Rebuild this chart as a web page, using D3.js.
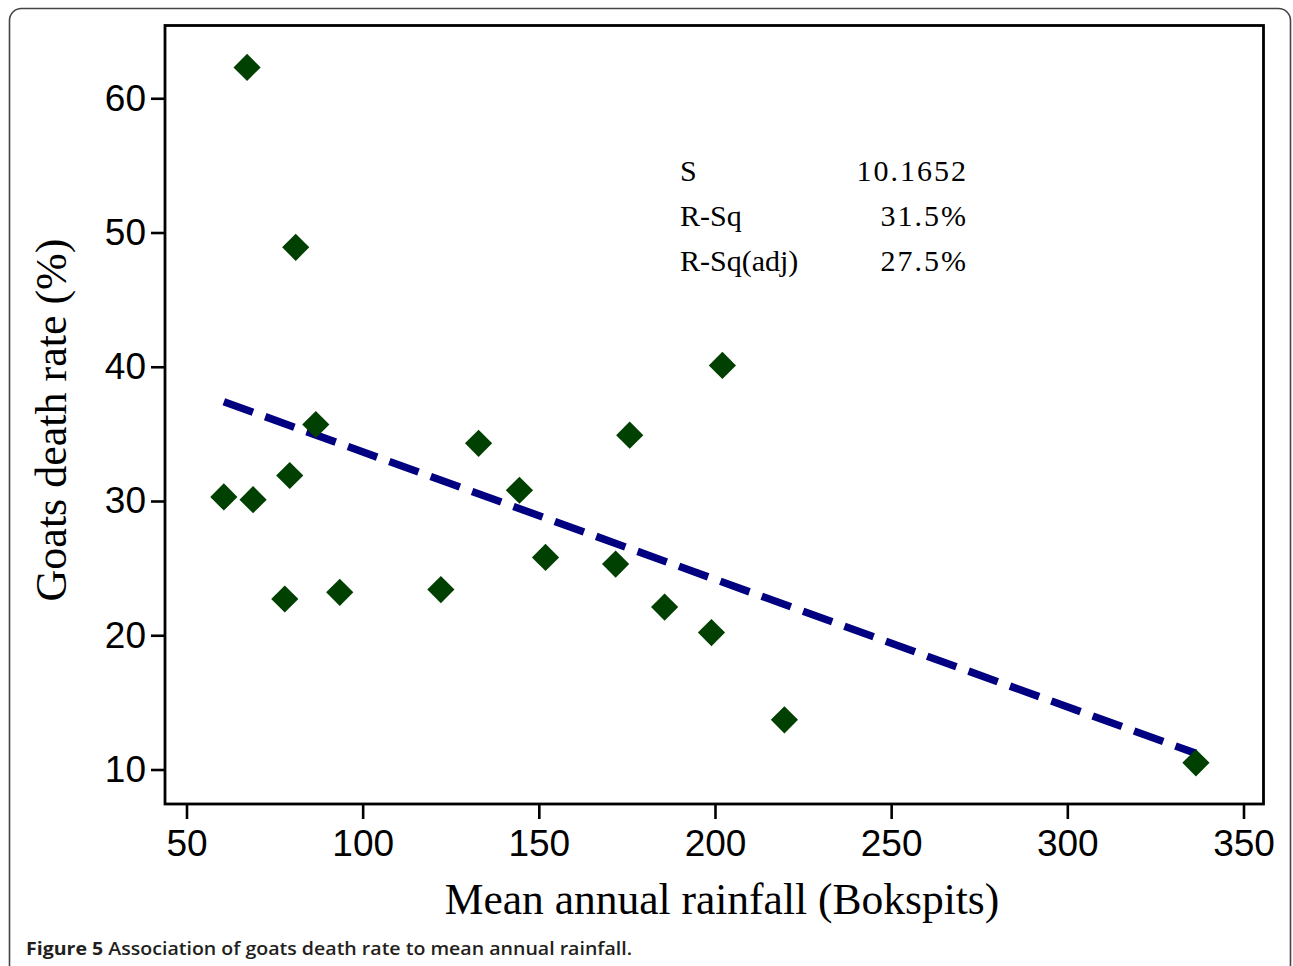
<!DOCTYPE html>
<html>
<head>
<meta charset="utf-8">
<script src="https://cdn.jsdelivr.net/npm/d3@7"></script>
<style>
  html, body { margin: 0; padding: 0; background: #fff; }
  svg { display: block; }
</style>
</head>
<body>
<svg id="chart" width="1293" height="966"></svg>
<script>
// ---- data ----
const rainfall = [67.2, 81.0, 60.6, 68.9, 79.3, 86.7, 77.9, 93.5, 122.2, 132.9, 144.5, 151.9, 171.8, 175.8, 185.7, 199.0, 202.1, 219.7, 336.5];
const deathRate = [62.3, 48.9, 30.3, 30.1, 31.9, 35.7, 22.7, 23.2, 23.4, 34.3, 30.8, 25.8, 25.3, 34.9, 22.1, 20.2, 40.1, 13.7, 10.5];
const fitX = [60.6, 336.5];
const fitY = [37.4, 11.2];
const xTicks = [50, 100, 150, 200, 250, 300, 350];
const yTicks = [10, 20, 30, 40, 50, 60];
const statLabels = ["S", "R-Sq", "R-Sq(adj)"];
const statValues = ["10.1652", "31.5%", "27.5%"];
const xTitle = "Mean annual rainfall (Bokspits)";
const yTitle = "Goats death rate (%)";
const captionBold = "Figure 5";
const captionText = " Association of goats  death rate to mean annual rainfall.";

// ---- layout ----
const svg = d3.select("#chart");
const L = 165, R = 1263.5, T = 25.5, B = 804;

const x = d3.scaleLinear().domain([43.9, 355.68]).range([L, R]);
const y = d3.scaleLinear().domain([7.43, 65.42]).range([B, T]);

// outer rounded border
svg.append("rect")
  .attr("x", 9.5).attr("y", 8.5)
  .attr("width", 1281).attr("height", 970)
  .attr("rx", 12).attr("ry", 12)
  .attr("fill", "none").attr("stroke", "#444").attr("stroke-width", 1.6);

// axes
const xAxis = svg.append("g")
  .attr("transform", `translate(0,${B})`)
  .call(d3.axisBottom(x).tickValues(xTicks).tickSize(15).tickPadding(11).tickFormat(d3.format("d")));
const yAxis = svg.append("g")
  .attr("transform", `translate(${L},0)`)
  .call(d3.axisLeft(y).tickValues(yTicks).tickSize(14).tickPadding(5).tickFormat(d3.format("d")));

[xAxis, yAxis].forEach(g => {
  g.select(".domain").remove();
  g.selectAll(".tick line").attr("stroke", "#000").attr("stroke-width", 2.6);
  g.selectAll(".tick text")
    .attr("fill", "#000")
    .style("font-family", "'Liberation Sans', Arial, sans-serif")
    .style("font-size", "37px");
});

// plot frame
svg.append("rect")
  .attr("x", L).attr("y", T)
  .attr("width", R - L).attr("height", B - T)
  .attr("fill", "none").attr("stroke", "#000").attr("stroke-width", 2.8);

// fitted line
const fitData = fitX.map((v, i) => [v, fitY[i]]);
svg.append("path")
  .datum(fitData)
  .attr("d", d3.line().x(d => x(d[0])).y(d => y(d[1])))
  .attr("fill", "none")
  .attr("stroke", "#000080")
  .attr("stroke-width", 7.5)
  .attr("stroke-dasharray", "31,13");

// points
const pts = rainfall.map((v, i) => [v, deathRate[i]]);
const sym = d3.symbol().type(d3.symbolSquare).size(370);
svg.append("g").selectAll("path")
  .data(pts)
  .join("path")
  .attr("d", sym)
  .attr("transform", d => `translate(${x(d[0])},${y(d[1])}) rotate(45)`)
  .attr("fill", "#004000");

// stats block
const statBase = [181, 226, 271];
const sg = svg.append("g")
  .style("font-family", "'Liberation Serif', 'Times New Roman', serif")
  .style("font-size", "30px")
  .attr("fill", "#000");
statLabels.forEach((s, i) => {
  sg.append("text").attr("x", 680).attr("y", statBase[i]).text(s);
  sg.append("text").attr("x", 968).attr("y", statBase[i]).attr("text-anchor", "end")
    .style("letter-spacing", "2px").text(statValues[i]);
});

// axis titles
svg.append("text")
  .attr("x", 722).attr("y", 914)
  .attr("text-anchor", "middle")
  .style("font-family", "'Liberation Serif', 'Times New Roman', serif")
  .style("font-size", "43.5px")
  .attr("fill", "#000")
  .text(xTitle);

svg.append("text")
  .attr("transform", "translate(66,420) rotate(-90)")
  .attr("text-anchor", "middle")
  .style("font-family", "'Liberation Serif', 'Times New Roman', serif")
  .style("font-size", "44px")
  .attr("fill", "#000")
  .text(yTitle);

// caption
const cap = svg.append("text")
  .attr("x", 26).attr("y", 955)
  .style("font-family", "'Open Sans', 'Noto Sans', sans-serif")
  .style("font-size", "17.5px")
  .attr("fill", "#231f20")
  .attr("textLength", 606)
  .attr("lengthAdjust", "spacingAndGlyphs");
cap.append("tspan").style("font-weight", "bold").text(captionBold);
cap.append("tspan").style("font-weight", "600").text(captionText);
</script>
</body>
</html>
